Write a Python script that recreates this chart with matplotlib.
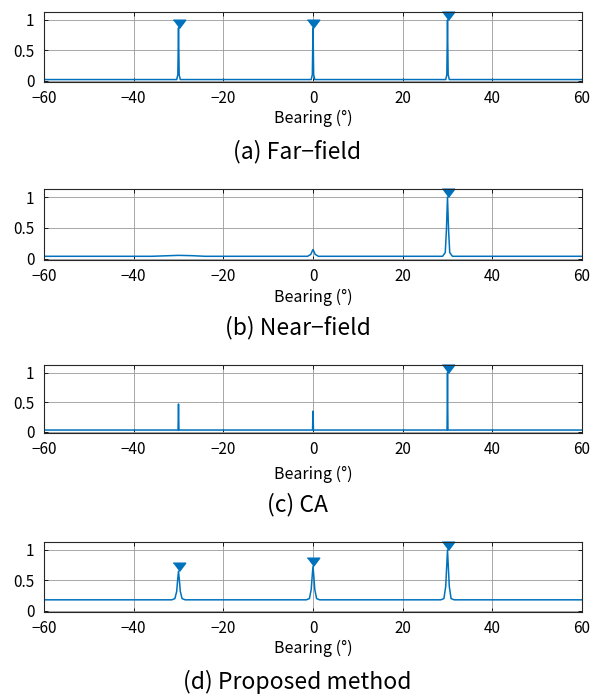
import numpy as np
import matplotlib
matplotlib.use("Agg")
import matplotlib.pyplot as plt

plt.rcParams['font.family'] = ['Noto Sans CJK KR', 'DejaVu Sans']

# spectra (bearing in degrees, normalised power)
far_x = [-60, -30.4, -30.15, -30, -29.85, -29.6, -0.4, -0.15, 0, 0.15, 0.4,
         29.6, 29.85, 30, 30.15, 30.4, 60]
far_y = [0.02, 0.02, 0.1, 0.87, 0.1, 0.02, 0.02, 0.1, 0.87, 0.1, 0.02,
         0.02, 0.1, 1.0, 0.1, 0.02, 0.02]

near_x = [-60, -36, -32, -30, -27, -24, -1.2, -0.5, -0.2, 0, 0.2, 0.5, 1.2,
          28.9, 29.5, 29.75, 30, 30.25, 30.5, 31.1, 60]
near_y = [0.04, 0.04, 0.05, 0.055, 0.05, 0.04, 0.04, 0.07, 0.12, 0.15, 0.12, 0.07, 0.04,
          0.04, 0.1, 0.45, 1.0, 0.45, 0.1, 0.04, 0.04]

ca_x = [-60, -30.1, -30, -29.9, -0.1, 0, 0.1, 29.9, 30, 30.1, 60]
ca_y = [0.03, 0.03, 0.47, 0.03, 0.03, 0.35, 0.03, 0.03, 1.0, 0.03, 0.03]

prop_x = [-60, -31.5, -30.8, -30.4, -30.2, -30, -29.8, -29.6, -29.2, -28.5,
          -1.5, -0.8, -0.4, -0.2, 0, 0.2, 0.4, 0.8, 1.5,
          28.5, 29.2, 29.6, 29.8, 30, 30.2, 30.4, 30.8, 31.5, 60]
prop_y = [0.18, 0.18, 0.2, 0.32, 0.5, 0.65, 0.5, 0.32, 0.2, 0.18,
          0.18, 0.2, 0.35, 0.55, 0.73, 0.55, 0.35, 0.2, 0.18,
          0.18, 0.2, 0.4, 0.7, 1.0, 0.7, 0.4, 0.2, 0.18, 0.18]

# detected peaks (marked with triangles)
far_pk = ([-30, 0, 30], [0.87, 0.87, 1.0])
near_pk = ([30], [1.0])
ca_pk = ([30], [1.0])
prop_pk = ([-30, 0, 30], [0.65, 0.73, 1.0])

captions = ["(a) Far\u2212field", "(b) Near\u2212field", "(c) CA", "(d) Proposed method"]
series = [(far_x, far_y, far_pk), (near_x, near_y, near_pk),
          (ca_x, ca_y, ca_pk), (prop_x, prop_y, prop_pk)]

blue = '#0072BD'
tri = [(-0.75, 1.0), (0.75, 1.0), (0.0, 0.0)]  # tip at the peak

W, H = 595, 697
fig = plt.figure(figsize=(W / 100, H / 100), dpi=100)

# axes boxes in pixels: top, bottom
boxes = [(12, 82), (189, 260), (365, 433), (542, 612)]
xlab_y = [118, 297, 474, 648]
cap_y = [152, 328, 505, 682]
left, right = 44, 582

for i, ((x, y, pk), (top, bot)) in enumerate(zip(series, boxes)):
    ax = fig.add_axes([left / W, 1 - bot / H, (right - left) / W, (bot - top) / H])
    ax.plot(x, y, color=blue, lw=1.1)
    ax.plot(pk[0], pk[1], linestyle='none', marker=tri, markersize=12,
            color=blue, clip_on=False)
    ax.set_xlim(-60, 60)
    ax.set_ylim(-0.02, 1.13)
    ax.set_xticks(np.arange(-60, 61, 20))
    ax.set_yticks([0, 0.5, 1])
    ax.set_yticklabels(['0', '0.5', '1'])
    ax.grid(True, color='0.6', lw=0.6)
    ax.set_axisbelow(True)
    ax.tick_params(direction='in', top=True, right=True, length=3,
                   labelsize=11, width=0.6)
    ax.tick_params(axis='x', pad=6)
    ax.tick_params(axis='y', pad=7)
    for s in ax.spines.values():
        s.set_linewidth(0.8)
        s.set_color('0.15')
    fig.text((left + right) / 2 / W, 1 - xlab_y[i] / H, "Bearing (\u00b0)",
             ha='center', va='center', fontsize=11.5)
    fig.text(0.5, 1 - cap_y[i] / H, captions[i], ha='center', va='center',
             fontsize=16.5)

fig.savefig('out.png', dpi=100)
